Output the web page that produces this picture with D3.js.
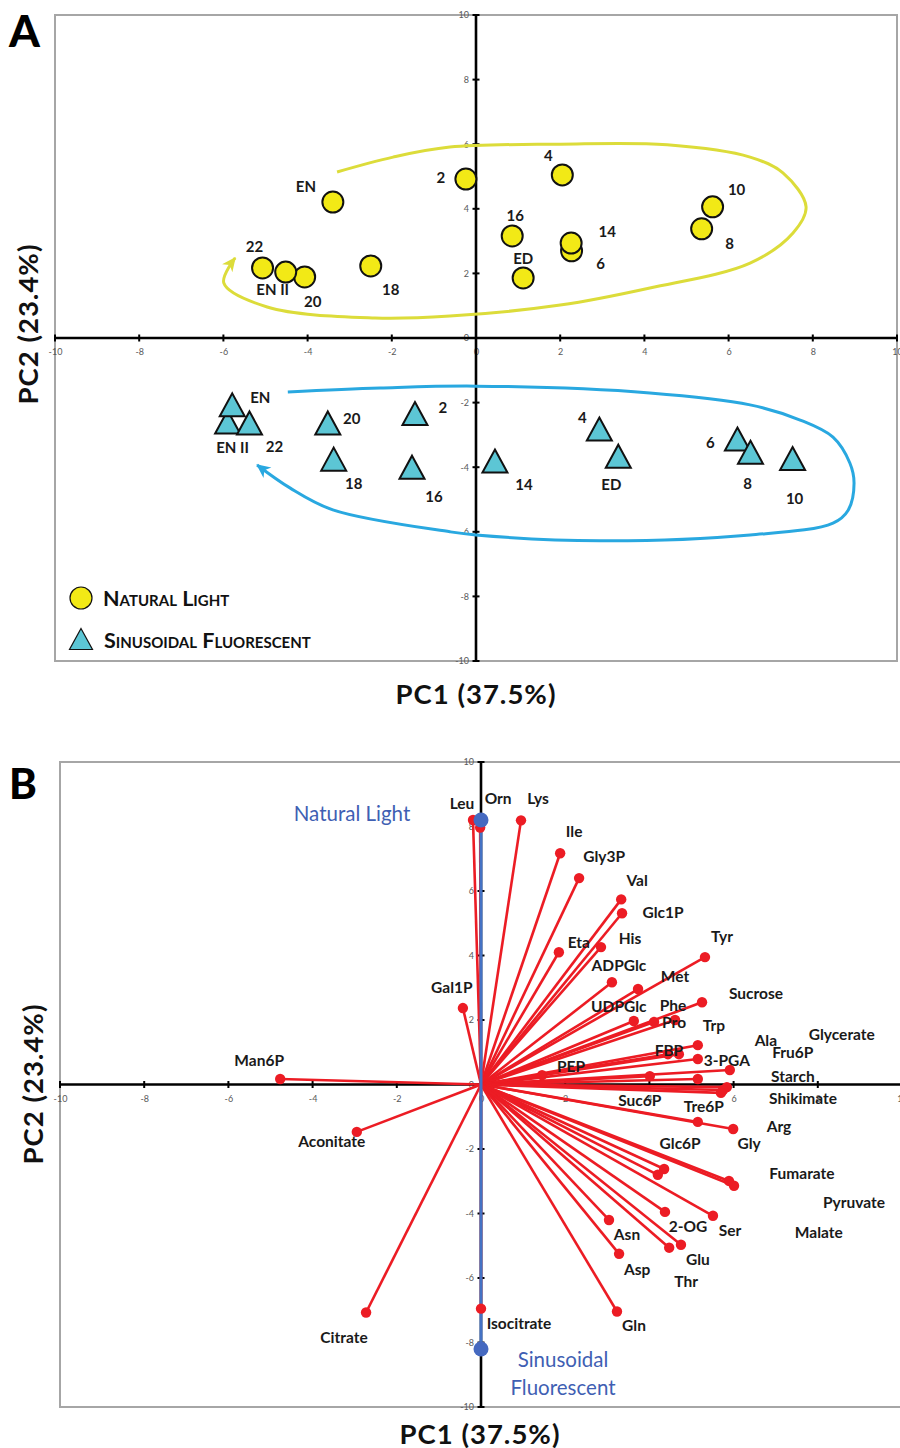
<!DOCTYPE html>
<html><head><meta charset="utf-8">
<script src="https://cdn.jsdelivr.net/npm/d3@7"></script>
<style>
body{margin:0;background:#fff}
svg{display:block}
text{font-family:Lato,"Open Sans",sans-serif}
</style>
</head><body>
<svg id="chart" width="900" height="1448"></svg>
<script>
// ---------------- DATA ----------------
const axisTicks = [-10,-8,-6,-4,-2,0,2,4,6,8,10];

// Panel A: Natural light scores
const naturalLabels = ["ED","2","4","6","14","10","8","16","18","22","20","EN II","EN"];
const naturalPC1 = [1.12,-0.24,2.05,2.27,2.26,5.62,5.36,0.86,-2.50,-5.07,-4.07,-4.52,-3.40];
const naturalPC2 = [1.86,4.92,5.05,2.70,2.94,4.06,3.38,3.16,2.23,2.17,1.89,2.04,4.21];

// Panel A: Sinusoidal fluorescent scores
const sinusLabels = ["EN II","22","EN","20","18","2","16","14","4","ED","6","8","10"];
const sinusPC1 = [-5.90,-5.38,-5.79,-3.52,-3.38,-1.45,-1.52,0.45,2.93,3.38,6.21,6.52,7.52];
const sinusPC2 = [-2.60,-2.63,-2.07,-2.63,-3.75,-2.34,-4.00,-3.81,-2.82,-3.66,-3.13,-3.54,-3.73];

// Panel A: trajectory loops (PC1, PC2)
const naturalLoopPC1 = [-3.30,-1.97,-0.62,2.0,4.54,6.51,7.29,7.84,7.53,6.51,4.13,2.0,-0.62,-2.40,-4.96,-5.99,-5.72];
const naturalLoopPC2 = [5.14,5.60,5.91,6.0,5.98,5.60,5.11,4.06,3.25,2.32,1.55,1.02,0.68,0.62,0.96,1.70,2.48];
const sinusLoopPC1 = [-4.47,-2.28,0,4.13,6.51,7.70,8.48,8.88,8.98,8.84,8.48,6.51,2.95,0,-0.62,-3.40,-4.42,-5.20];
const sinusLoopPC2 = [-1.67,-1.55,-1.49,-1.70,-2.07,-2.54,-3.07,-3.87,-4.49,-5.33,-5.73,-6.10,-6.28,-6.10,-6.0,-5.32,-4.64,-3.93];

// Panel B: loadings
const metabolites = ["Leu","Orn","Lys","Ile","Gly3P","Val","Glc1P","Eta","His","Tyr","ADPGlc","Met","Sucrose","UDPGlc","Phe","Pro","Trp","FBP","Ala","3-PGA","Glycerate","PEP","Suc6P","Fru6P","Starch","Shikimate","Arg","Tre6P","Gly","Glc6P","Malate","Fumarate","Pyruvate","2-OG","Ser","Asn","Asp","Thr","Glu","Gln","Isocitrate","Man6P","Gal1P","Aconitate","Citrate"];
const loadPC1 = [-0.19,-0.02,0.95,1.88,2.33,3.33,3.35,1.85,2.85,5.32,3.11,3.73,5.25,3.63,4.11,4.61,5.15,4.44,4.70,5.15,5.91,1.45,4.01,5.15,5.84,5.75,5.70,5.15,5.99,4.35,4.20,5.89,6.01,4.37,5.51,3.04,3.28,4.47,4.75,3.23,0,-4.77,-0.43,-2.95,-2.73];
const loadPC2 = [8.20,7.97,8.19,7.17,6.40,5.74,5.31,4.10,4.26,3.95,3.17,2.96,2.55,1.97,1.94,2.00,1.22,0.94,0.94,0.79,0.45,0.29,0.26,0.17,-0.08,-0.17,-0.26,-1.16,-1.38,-2.62,-2.80,-2.99,-3.14,-3.95,-4.07,-4.20,-5.25,-5.06,-4.97,-7.04,-6.95,0.17,2.37,-1.47,-7.07];

// Panel B: light-condition vectors
const groupNames = ["Natural Light","Sinusoidal Fluorescent"];
const groupPC1 = [0,0];
const groupPC2 = [8.2,-8.2];

// ---------------- LAYOUT (pixel label offsets) ----------------
const naturalLabelOffset = [[0,-19],[-25,-1],[-14,-19],[29,13],[36,-11],[24,-17],[28,15],[3,-20],[20,24],[-8,-21],[8,25],[-13,18],[-27,-15]];
const sinusLabelOffset = [[5,26],[25,24],[28,-7],[24,-4],[20,25],[28,-6],[22,30],[29,24],[-17,-11],[-7,29],[-27,4],[-3,31],[2,40]];
const metaboliteLabelOffset = [[-11,-16],[18,-29],[17,-22],[14,-22],[25,-22],[16,-19],[41,-1],[20,-10],[29,-9],[17,-21],[7,-17],[37,-12],[54,-9],[-15,-14],[19,-16],[-1,3],[16,-20],[1,-4],[87,-14],[29,2],[112,-35],[29,-9],[-10,24],[95,-26],[66,-11],[80,9],[58,34],[6,-15],[16,15],[16,-25],[161,58],[73,-7],[120,17],[23,15],[17,15],[18,15],[18,16],[17,34],[17,15],[17,14],[38,15],[-21,-18],[-11,-20],[-25,10],[-22,25]];

// ---------------- DRAW ----------------
const svg = d3.select("#chart");
const defs = svg.append("defs");
function arrowMarker(id, color){
  defs.append("marker").attr("id", id)
    .attr("markerUnits","userSpaceOnUse")
    .attr("viewBox","-14 -7 16 14").attr("refX",0).attr("refY",0)
    .attr("markerWidth",16).attr("markerHeight",14).attr("orient","auto")
    .append("path").attr("d","M1,0 L-13,-6.5 L-9,0 L-13,6.5 Z").attr("fill",color);
}
const YEL_LINE = "#dcdc3a", BLUE_LINE = "#29a8e0";
arrowMarker("arrY", YEL_LINE);
arrowMarker("arrB", BLUE_LINE);

function drawFrameAndAxes(g, x, y){
  const [x0,x1] = x.range(), [y0,y1] = y.range();
  g.append("rect").attr("x",x0).attr("y",y1).attr("width",x1-x0).attr("height",y0-y1)
    .attr("fill","none").attr("stroke","#a6a6a6").attr("stroke-width",2);
  const fmt = d => String(d);
  g.append("g").attr("transform",`translate(0,${y(0)})`)
    .call(d3.axisBottom(x).tickValues(axisTicks).tickSize(0).tickPadding(11).tickFormat(fmt))
    .call(s=>{s.select(".domain").remove();
      s.selectAll("text").attr("fill","#595959").attr("font-size",9).attr("font-family","Lato, sans-serif");});
  g.append("g").attr("transform",`translate(${x(0)},0)`)
    .call(d3.axisLeft(y).tickValues(axisTicks).tickSize(0).tickPadding(7).tickFormat(fmt))
    .call(s=>{s.select(".domain").remove();
      s.selectAll("text").attr("fill","#595959").attr("font-size",9).attr("font-family","Lato, sans-serif");});
  g.append("line").attr("x1",x0).attr("x2",x1).attr("y1",y(0)).attr("y2",y(0))
    .attr("stroke","#000").attr("stroke-width",2.6);
  g.append("line").attr("x1",x(0)).attr("x2",x(0)).attr("y1",y0).attr("y2",y1)
    .attr("stroke","#000").attr("stroke-width",2.6);
  g.selectAll(null).data(axisTicks).enter().append("line")
    .attr("x1",d=>x(d)).attr("x2",d=>x(d)).attr("y1",y(0)-3.5).attr("y2",y(0)+3.5)
    .attr("stroke","#000").attr("stroke-width",2);
  g.selectAll(null).data(axisTicks).enter().append("line")
    .attr("y1",d=>y(d)).attr("y2",d=>y(d)).attr("x1",x(0)-3.5).attr("x2",x(0)+3.5)
    .attr("stroke","#000").attr("stroke-width",2);
}

function axisTitles(g, cx, cyBottom, yLabelX, yLabelY){
  g.append("text").attr("x",cx).attr("y",cyBottom).attr("text-anchor","middle")
    .attr("font-size",27.5).attr("font-weight",700).attr("letter-spacing",1).attr("fill","#111")
    .attr("dy","0.35em").text("PC1 (37.5%)");
  g.append("text").attr("transform",`translate(${yLabelX},${yLabelY}) rotate(-90)`)
    .attr("text-anchor","middle").attr("font-size",27.5).attr("font-weight",700).attr("letter-spacing",1)
    .attr("fill","#111").attr("dy","0.35em").text("PC2 (23.4%)");
}

// ===== Panel A =====
const gA = svg.append("g");
const xA = d3.scaleLinear().domain([-10,10]).range([55,897]);
const yA = d3.scaleLinear().domain([-10,10]).range([661,15]);
drawFrameAndAxes(gA, xA, yA);

const loopLine = d3.line().curve(d3.curveCatmullRom.alpha(0.5));
const natLoop = naturalLoopPC1.map((v,i)=>[xA(v), yA(naturalLoopPC2[i])]);
const sinLoop = sinusLoopPC1.map((v,i)=>[xA(v), yA(sinusLoopPC2[i])]);
gA.append("path").attr("d",loopLine(natLoop)).attr("fill","none").attr("stroke",YEL_LINE)
  .attr("stroke-width",3).attr("marker-end","url(#arrY)");
gA.append("path").attr("d",loopLine(sinLoop)).attr("fill","none").attr("stroke",BLUE_LINE)
  .attr("stroke-width",3).attr("marker-end","url(#arrB)");

const YEL = "#f2e916", TEAL = "#5cc6d5";
const triPath = (w,h) => `M0,${-h/2} L${w/2},${h/2} L${-w/2},${h/2} Z`;

naturalLabels.forEach((lab,i)=>{
  gA.append("circle").attr("cx",xA(naturalPC1[i])).attr("cy",yA(naturalPC2[i])).attr("r",10.5)
    .attr("fill",YEL).attr("stroke","#111").attr("stroke-width",2);
});
naturalLabels.forEach((lab,i)=>{
  gA.append("text").attr("x",xA(naturalPC1[i])+naturalLabelOffset[i][0]).attr("y",yA(naturalPC2[i])+naturalLabelOffset[i][1])
    .attr("text-anchor","middle").attr("dy","0.35em").attr("font-size",15).attr("font-weight",700).attr("fill","#1a1a1a").text(lab);
});
sinusLabels.forEach((lab,i)=>{
  gA.append("path").attr("d",triPath(25,23)).attr("transform",`translate(${xA(sinusPC1[i])},${yA(sinusPC2[i])})`)
    .attr("fill",TEAL).attr("stroke","#111").attr("stroke-width",2).attr("stroke-linejoin","miter");
});
sinusLabels.forEach((lab,i)=>{
  gA.append("text").attr("x",xA(sinusPC1[i])+sinusLabelOffset[i][0]).attr("y",yA(sinusPC2[i])+sinusLabelOffset[i][1])
    .attr("text-anchor","middle").attr("dy","0.35em").attr("font-size",15).attr("font-weight",700).attr("fill","#1a1a1a").text(lab);
});

// legend
gA.append("circle").attr("cx",81).attr("cy",598).attr("r",11).attr("fill",YEL).attr("stroke","#111").attr("stroke-width",1.2);
gA.append("path").attr("d",triPath(23,21)).attr("transform","translate(81,639)").attr("fill",TEAL).attr("stroke","#111").attr("stroke-width",1.2);
gA.append("text").attr("x",103).attr("y",598).attr("dy","0.35em").attr("font-size",21.5).attr("font-weight",700)
  .attr("font-variant","small-caps").attr("fill","#111").text("Natural Light");
gA.append("text").attr("x",104).attr("y",640).attr("dy","0.35em").attr("font-size",21.5).attr("font-weight",700)
  .attr("font-variant","small-caps").attr("fill","#111").text("Sinusoidal Fluorescent");

gA.append("text").attr("x",9).attr("y",47).attr("font-size",44).attr("font-weight",900).attr("fill","#000").text("A");
axisTitles(gA, 476, 694, 28, 324);

// ===== Panel B =====
const gB = svg.append("g");
const xB = d3.scaleLinear().domain([-10,10]).range([60,902]);
const yB = d3.scaleLinear().domain([-10,10]).range([1407,762]);
drawFrameAndAxes(gB, xB, yB);

const RED = "#ec1c24", BLUE = "#4569c0";
metabolites.forEach((m,i)=>{
  gB.append("line").attr("x1",xB(0)).attr("y1",yB(0)).attr("x2",xB(loadPC1[i])).attr("y2",yB(loadPC2[i]))
    .attr("stroke",RED).attr("stroke-width",2.6);
});
gB.append("line").attr("x1",xB(groupPC1[0])).attr("y1",yB(groupPC2[0])).attr("x2",xB(groupPC1[1])).attr("y2",yB(groupPC2[1]))
  .attr("stroke","#4472c4").attr("stroke-width",3);
metabolites.forEach((m,i)=>{
  gB.append("circle").attr("cx",xB(loadPC1[i])).attr("cy",yB(loadPC2[i])).attr("r",5.2).attr("fill",RED);
});
groupNames.forEach((n,i)=>{
  gB.append("circle").attr("cx",xB(groupPC1[i])).attr("cy",yB(groupPC2[i])).attr("r",7.5).attr("fill",BLUE);
});
metabolites.forEach((m,i)=>{
  gB.append("text").attr("x",xB(loadPC1[i])+metaboliteLabelOffset[i][0]).attr("y",yB(loadPC2[i])+metaboliteLabelOffset[i][1])
    .attr("text-anchor","middle").attr("dy","0.35em").attr("font-size",15.5).attr("font-weight",700).attr("fill","#1a1a1a").text(m);
});
gB.append("text").attr("x",xB(groupPC1[0])-129).attr("y",yB(groupPC2[0])-6).attr("text-anchor","middle").attr("dy","0.35em")
  .attr("font-size",20.5).attr("fill","#3f5fb3").text(groupNames[0]);
const sfWords = groupNames[1].split(" ");
sfWords.forEach((w,k)=>{
  gB.append("text").attr("x",xB(groupPC1[1])+82).attr("y",yB(groupPC2[1])+11+k*27.5).attr("text-anchor","middle").attr("dy","0.35em")
    .attr("font-size",20.5).attr("fill","#3f5fb3").text(w);
});

gB.append("text").attr("x",9).attr("y",799).attr("font-size",42).attr("font-weight",900).attr("fill","#000").text("B");
axisTitles(gB, 480, 1434, 33, 1084);
</script>
</body></html>
